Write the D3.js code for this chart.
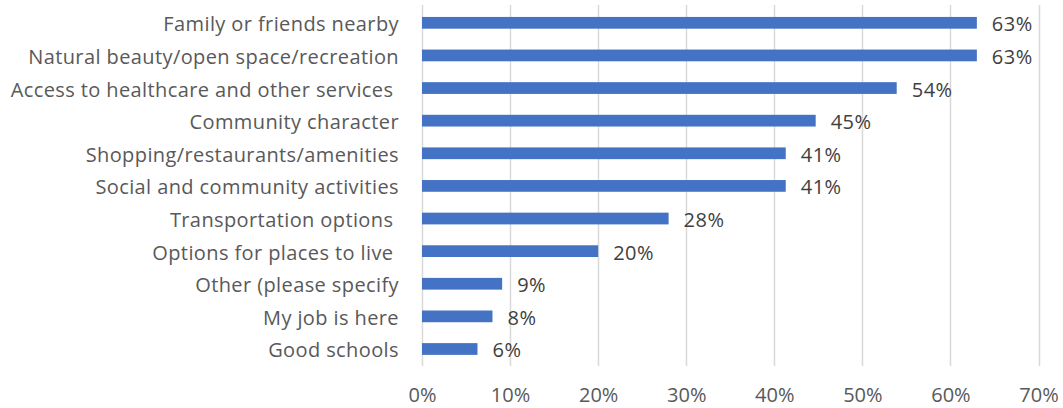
<!DOCTYPE html>
<html>
<head>
<meta charset="utf-8">
<script src="https://cdn.jsdelivr.net/npm/d3@7"></script>
<style>
  html, body { margin: 0; padding: 0; background: #fff; }
  svg { display: block; }
  text { font-family: "Open Sans", sans-serif; white-space: pre; }
</style>
</head>
<body>
<svg id="chart" width="1063" height="408"></svg>
<script>
const categories = [
  "Family or friends nearby",
  "Natural beauty/open space/recreation",
  "Access to healthcare and other services ",
  "Community character",
  "Shopping/restaurants/amenities",
  "Social and community activities",
  "Transportation options ",
  "Options for places to live ",
  "Other (please specify",
  "My job is here",
  "Good schools"
];
const values = [63.0, 63.0, 53.9, 44.7, 41.3, 41.3, 28.0, 20.0, 9.1, 8.0, 6.3];
const tickValues = [0, 10, 20, 30, 40, 50, 60, 70];

(function () {
const svg = d3.select("#chart");
const pLeft = 422, pRight = 1038.5, pTop = 6.5, pBottom = 365.3;
const FS = 20;

const x = d3.scaleLinear().domain([0, 70]).range([pLeft, pRight]);
const y = d3.scaleBand().domain(categories).range([pTop, pBottom]).paddingInner(0.64).paddingOuter(0.32);

// gridlines
svg.append("g").selectAll("line").data(tickValues).join("line")
  .attr("x1", d => Math.round(x(d)) + 0.5).attr("x2", d => Math.round(x(d)) + 0.5)
  .attr("y1", 5).attr("y2", 366)
  .attr("stroke", "#d9d9d9").attr("stroke-width", 1.5);

// x tick labels
const xAxis = d3.axisBottom(x).tickValues(tickValues).tickFormat(d => d + "%").tickSize(0).tickPadding(0);
const gx = svg.append("g").attr("transform", `translate(0,402)`).call(xAxis);
gx.select(".domain").remove();
gx.selectAll("text").attr("dy", null).attr("fill", "#595959").attr("font-size", FS).attr("font-family", "'Open Sans', sans-serif");

// y labels
const yAxis = d3.axisLeft(y).tickSize(0).tickPadding(0);
const gy = svg.append("g").attr("transform", `translate(${pLeft - 23},0)`).call(yAxis);
gy.select(".domain").remove();
gy.selectAll("text").attr("dy", null).attr("y", 8.5).attr("fill", "#595959").attr("font-size", FS)
  .attr("font-family", "'Open Sans', sans-serif")
  .attr("letter-spacing", "0.4px")
  .style("white-space", "pre");

// bars
svg.append("g").selectAll("rect").data(values).join("rect")
  .attr("x", x(0))
  .attr("y", (d, i) => y(categories[i]))
  .attr("width", d => x(d) - x(0))
  .attr("height", y.bandwidth())
  .attr("fill", "#4472C4");

// data labels
svg.append("g").selectAll("text").data(values).join("text")
  .attr("x", d => x(d) + 15)
  .attr("y", (d, i) => y(categories[i]) + y.bandwidth() / 2 + 8.5)
  .attr("fill", "#404040")
  .attr("font-size", FS)
  .attr("letter-spacing", "0.5px")
  .text(d => Math.round(d) + "%");
})();
</script>
</body>
</html>
